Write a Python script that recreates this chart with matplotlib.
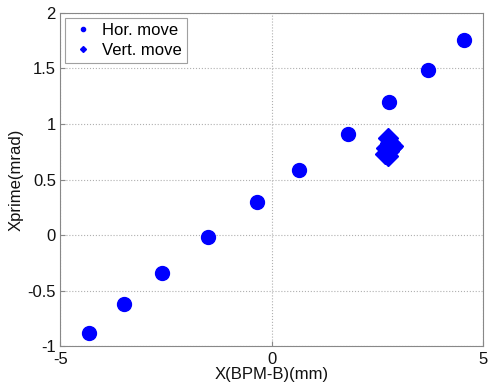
import matplotlib
matplotlib.use('Agg')
import matplotlib.pyplot as plt

plt.rcParams['font.family'] = ['Liberation Sans', 'DejaVu Sans']
plt.rcParams['axes.unicode_minus'] = False

# horizontal move
hor_x = [-4.31, -3.48, -2.59, -1.50, -0.34, 0.65, 1.81, 2.78, 3.70, 4.55]
hor_y = [-0.88, -0.62, -0.34, -0.02, 0.30, 0.59, 0.91, 1.20, 1.49, 1.76]

# vertical move (cluster)
ver_x = [2.76, 2.80, 2.84, 2.70, 2.68, 2.74, 2.78, 2.86]
ver_y = [0.87, 0.83, 0.79, 0.78, 0.73, 0.71, 0.76, 0.80]

fig = plt.figure(figsize=(4.89, 3.92), dpi=100)
ax = fig.add_axes([0.123, 0.117, 0.865, 0.850])

ax.plot(hor_x, hor_y, 'o', color='#0000ff', markersize=10, label='Hor. move')
ax.plot(ver_x, ver_y, 'D', color='#0000ff', markersize=10, label='Vert. move')

ax.set_xlim(-5, 5)
ax.set_ylim(-1, 2)
ax.set_xticks([-5, 0, 5])
ax.set_yticks([-1, -0.5, 0, 0.5, 1, 1.5, 2])
ax.set_yticklabels(['-1', '-0.5', '0', '0.5', '1', '1.5', '2'])
ax.grid(True, linestyle=':', color='#b0b0b0', linewidth=0.8)
for s in ax.spines.values():
    s.set_color('#888888')
ax.tick_params(direction='in', colors='#888888', labelcolor='#111111', labelsize=12)
ax.tick_params(axis='y', pad=3)
ax.tick_params(axis='x', pad=4)

ax.set_xlabel('X(BPM-B)(mm)', fontsize=12, color='#111111', labelpad=0)
ax.set_ylabel('Xprime(mrad)', fontsize=12, color='#111111', labelpad=3)

leg = ax.legend(loc='upper left', fontsize=12, markerscale=0.3, fancybox=False,
                edgecolor='#888888', handletextpad=0.3, borderaxespad=0.3,
                borderpad=0.3, labelspacing=0.3, handlelength=1.6)
leg.get_frame().set_linewidth(0.8)

fig.savefig('out.png', dpi=100)
